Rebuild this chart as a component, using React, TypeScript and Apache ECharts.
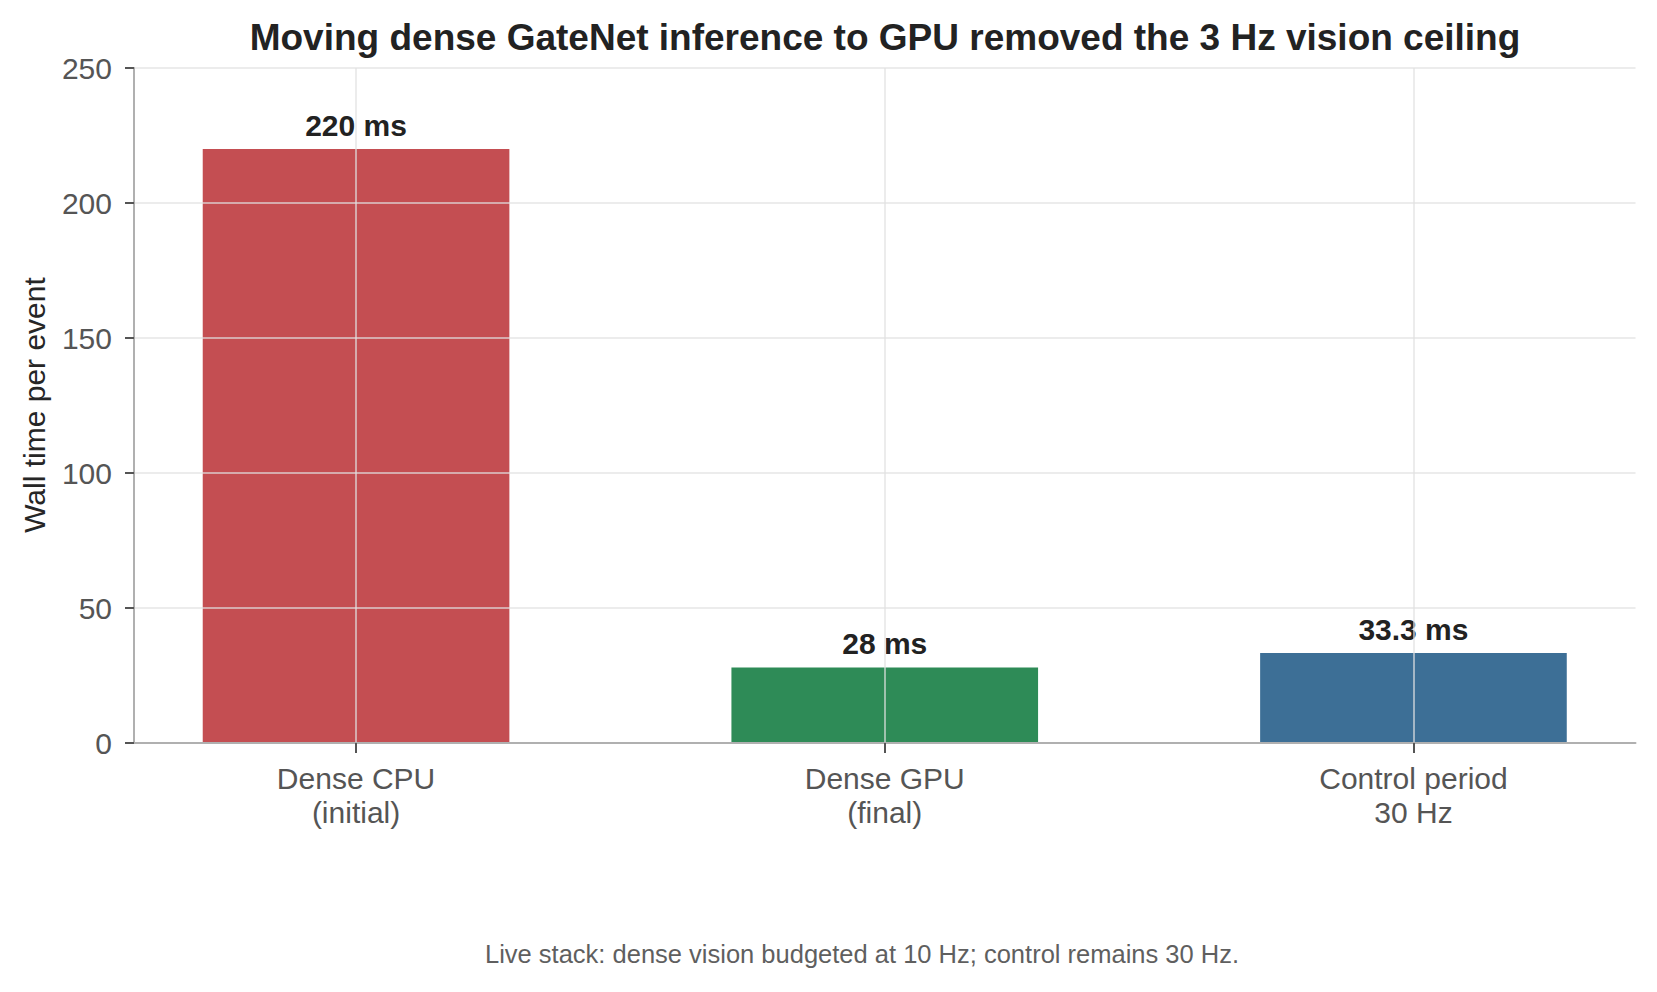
import React, { useEffect, useRef } from 'react'
import * as echarts from 'echarts'

const categories = ['Dense CPU\n(initial)', 'Dense GPU\n(final)', 'Control period\n30 Hz']
const wallTimeMs = [220, 28, 33.3]
const barColors = ['#C44E52', '#2E8B57', '#3D6F96']
const yMin = 0
const yMax = 250
const yStep = 50

const titleText = 'Moving dense GateNet inference to GPU removed the 3 Hz vision ceiling'
const yAxisTitle = 'Wall time per event'
const footnote = 'Live stack: dense vision budgeted at 10 Hz; control remains 30 Hz.'

const FONT = '"Liberation Sans", Arial, Helvetica, sans-serif'

const App: React.FC = () => {
    const chartRef = useRef<HTMLDivElement | null>(null)

    useEffect(() => {
        document.body.style.margin = '0'
        if (!chartRef.current) return
        const chart = echarts.init(chartRef.current, undefined, { renderer: 'svg' })

        const positions = categories.map((_, i) => i)

        const option: any = {
            animation: false,
            backgroundColor: '#ffffff',
            grid: {
                left: 134,
                right: 21.5,
                top: 68,
                bottom: 249,
                containLabel: false,
                outerBoundsMode: 'none',
            },
            xAxis: {
                type: 'value',
                min: -0.42,
                max: 2.42,
                z: 3,
                axisLine: { show: true, onZero: false, lineStyle: { color: '#b0b0b0', width: 2 } },
                axisTick: {
                    show: true,
                    customValues: positions,
                    length: 10,
                    lineStyle: { color: '#555555', width: 2 },
                },
                axisLabel: {
                    customValues: positions,
                    formatter: (v: number) => categories[Math.round(v)] ?? '',
                    color: '#555555',
                    fontSize: 30,
                    fontFamily: FONT,
                    lineHeight: 34,
                    margin: 18,
                },
                splitLine: {
                    show: true,
                    lineStyle: { color: 'rgba(225,225,225,0.85)', width: 1.5 },
                },
            },
            yAxis: {
                type: 'value',
                min: yMin,
                max: yMax,
                interval: yStep,
                z: 3,
                axisLine: { show: true, onZero: false, lineStyle: { color: '#b0b0b0', width: 2 } },
                axisTick: { show: true, length: 9, lineStyle: { color: '#555555', width: 2 } },
                axisLabel: {
                    color: '#555555',
                    fontSize: 30,
                    fontFamily: FONT,
                    margin: 22,
                },
                splitLine: {
                    show: true,
                    lineStyle: { color: 'rgba(225,225,225,0.85)', width: 1.5 },
                },
            },
            series: [
                {
                    type: 'bar',
                    z: 1,
                    barWidth: '58%',
                    data: wallTimeMs.map((v, i) => ({
                        value: [positions[i], v],
                        itemStyle: { color: barColors[i] },
                    })),
                    label: {
                        show: true,
                        position: 'top',
                        distance: 9,
                        formatter: (p: any) => `${p.value[1]} ms`,
                        color: '#222222',
                        fontSize: 30,
                        fontWeight: 'bold',
                        fontFamily: FONT,
                    },
                },
            ],
            graphic: [
                {
                    type: 'text',
                    x: 885,
                    y: 37.5,
                    style: {
                        text: titleText,
                        fill: '#222222',
                        font: `bold 37px ${FONT}`,
                        align: 'center',
                        verticalAlign: 'middle',
                    },
                },
                {
                    type: 'text',
                    x: 34,
                    y: 405,
                    rotation: Math.PI / 2,
                    style: {
                        text: yAxisTitle,
                        fill: '#262626',
                        font: `30px ${FONT}`,
                        align: 'center',
                        verticalAlign: 'middle',
                    },
                },
                {
                    type: 'text',
                    x: 862,
                    y: 954,
                    style: {
                        text: footnote,
                        fill: '#5f5f5f',
                        font: `25.5px ${FONT}`,
                        align: 'center',
                        verticalAlign: 'middle',
                    },
                },
            ],
        }

        chart.setOption(option)

        return () => {
            chart.dispose()
        }
    }, [])

    return <div ref={chartRef} style={{ width: '1657px', height: '992px' }} />
}

export default App
